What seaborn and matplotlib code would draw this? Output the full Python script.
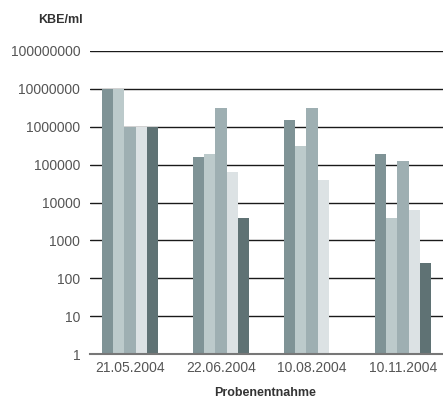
import pandas as pd
import matplotlib
matplotlib.use("Agg")
import matplotlib.pyplot as plt
import seaborn as sns
import numpy as np

# sampling dates (x categories)
dates = ['21.05.2004', '22.06.2004', '10.08.2004', '10.11.2004']
# five measurement series per date (KBE/ml), NaN = no bar
series_names = ['S1', 'S2', 'S3', 'S4', 'S5']
s1 = [1.0e7, 1.6e5, 1.5e6, 1.9e5]
s2 = [1.0e7, 1.9e5, 3.1e5, 3.9e3]
s3 = [1.0e6, 3.2e6, 3.2e6, 1.25e5]
s4 = [1.0e6, 6.3e4, 3.9e4, 6.3e3]
s5 = [1.0e6, 3.9e3, np.nan, 2.5e2]
colors = ['#7f9396', '#bccacb', '#9eafb2', '#dce2e4', '#5f7274']
yticks = [1, 10, 100, 1000, 10000, 100000, 1000000, 10000000, 100000000]

rows = []
for name, vals in zip(series_names, [s1, s2, s3, s4, s5]):
    for d, v in zip(dates, vals):
        rows.append({'Datum': d, 'Serie': name, 'KBE': v})
df = pd.DataFrame(rows)

sns.set_style('white')
plt.rcParams['font.family'] = ['Liberation Sans', 'DejaVu Sans']

fig = plt.figure(figsize=(4.43, 4.0), dpi=100)
ax = fig.add_axes([90 / 443, 46 / 400, 1 - 90 / 443, 303 / 400])
ax.set_yscale('log')
sns.barplot(data=df, x='Datum', y='KBE', hue='Serie', palette=colors,
            width=0.62, gap=0, linewidth=0, saturation=1, ax=ax, legend=False)

ax.set_ylim(1, 1e8)
ax.set_xlim(-0.44, 3.44)
ax.set_yticks(yticks)
ax.set_yticklabels([str(t) for t in yticks])
ax.minorticks_off()
ax.set_axisbelow(True)
ax.yaxis.grid(True, color='#1a1a1a', linewidth=1.0)
ax.xaxis.grid(False)
for side in ['left', 'right', 'top']:
    ax.spines[side].set_visible(False)
ax.spines['bottom'].set_color('#777777')
ax.spines['bottom'].set_linewidth(1.5)
ax.tick_params(axis='both', length=0, labelsize=10, colors='#555555')
ax.tick_params(axis='y', pad=7)
ax.tick_params(axis='x', pad=5)
ax.set_xlabel('')
ax.set_ylabel('')

fig.text(60 / 443, 1 - 20 / 400, 'KBE/ml', ha='center', va='center',
         fontsize=9, fontweight='bold', color='#333333')
fig.text(265 / 443, 1 - 393 / 400, 'Probenentnahme', ha='center', va='center',
         fontsize=9, fontweight='bold', color='#333333')

fig.savefig('out.png', dpi=100)
